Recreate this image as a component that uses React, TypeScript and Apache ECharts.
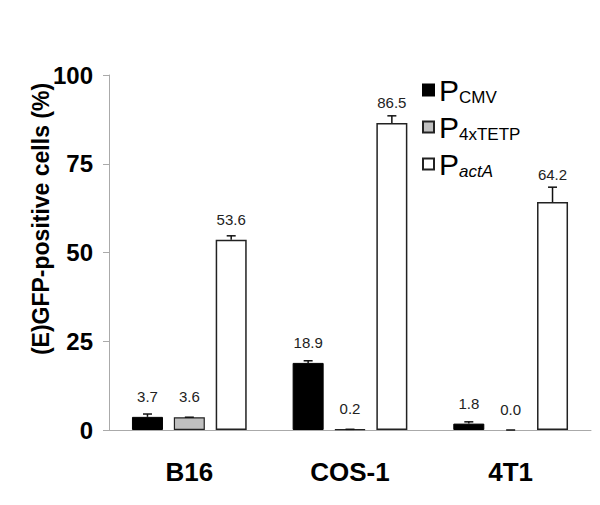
import React, { useEffect, useRef } from "react";
import * as echarts from "echarts";

const categories = ["B16", "COS-1", "4T1"];
const seriesNames = ["PCMV", "P4xTETP", "PactA"];
const legendSubs = ["CMV", "4xTETP", "actA"];
const cmvValues = [3.7, 18.9, 1.8];
const cmvErrors = [0.8, 0.6, 0.5];
const tetpValues = [3.6, 0.2, 0.0];
const tetpErrors = [0, 0, 0];
const actAValues = [53.6, 86.5, 64.2];
const actAErrors = [1.1, 2.0, 4.2];

const FONT = 'Arial, "Liberation Sans", Helvetica, sans-serif';
const BAR_FRAC = 0.193;
const GAP_FRAC = 0.35;

function errorSeries(k: number, values: number[], errors: number[]) {
  return {
    type: "custom",
    name: "err" + k,
    z: 5,
    silent: true,
    data: values.map((v, i) => [i, v, errors[i]]),
    renderItem: (params: any, api: any) => {
      const ci = api.value(0);
      const v = api.value(1);
      const e = api.value(2);
      const base = api.coord([ci, v]);
      const top = api.coord([ci, v + e]);
      const cw = api.size([1, 0])[0];
      const w = cw * BAR_FRAC;
      const x = base[0] + (k - 1) * w * (1 + GAP_FRAC);
      const cap = 4.5;
      const children: any[] = [];
      if (e > 0) {
        children.push({
          type: "line",
          shape: { x1: x, y1: base[1], x2: x, y2: top[1] },
          style: { stroke: "#111", lineWidth: 1.5 },
        });
      }
      children.push({
        type: "line",
        shape: { x1: x - cap, y1: top[1], x2: x + cap, y2: top[1] },
        style: { stroke: "#111", lineWidth: 1.5 },
      });
      const labelBottom = Math.min(base[1] - 13, top[1] - 5);
      children.push({
        type: "text",
        x: x,
        y: labelBottom,
        style: {
          text: v.toFixed(1),
          align: "center",
          verticalAlign: "bottom",
          fontSize: 15,
          fontFamily: FONT,
          fill: "#222",
        },
      });
      return { type: "group", children };
    },
  };
}

export default function App() {
  const ref = useRef<HTMLDivElement>(null);
  useEffect(() => {
    if (!ref.current) return;
    const chart = echarts.init(ref.current, null, { renderer: "svg" });
    const barBase = {
      type: "bar",
      barWidth: (BAR_FRAC * 100).toFixed(1) + "%",
      barGap: GAP_FRAC * 100 + "%",
    };
    chart.setOption({
      animation: false,
      backgroundColor: "#fff",
      grid: { left: 109, right: 9, top: 75, bottom: 75 },
      legend: {
        orient: "vertical",
        left: 422,
        top: 74,
        padding: 0,
        itemWidth: 11,
        itemHeight: 11,
        itemGap: 5,
        itemTextGap: 5,
        icon: "rect",
        selectedMode: false,
        data: seriesNames,
        formatter: (name: string) => {
          const i = seriesNames.indexOf(name);
          const sub = legendSubs[i];
          return i === 2 ? `{p|P}{si|${sub}}` : `{p|P}{s|${sub}}`;
        },
        textStyle: {
          rich: {
            p: { fontSize: 30, fontFamily: FONT, color: "#000", lineHeight: 30 },
            s: {
              fontSize: 17,
              fontFamily: FONT,
              color: "#000",
              lineHeight: 17,
              padding: [15, 0, 0, 0],
            },
            si: {
              fontSize: 17,
              fontFamily: FONT,
              fontStyle: "italic",
              color: "#000",
              lineHeight: 17,
              padding: [15, 0, 0, 0],
            },
          },
        },
      },
      graphic: [
        {
          type: "text",
          x: 41,
          y: 219,
          rotation: Math.PI / 2,
          style: {
            text: "(E)GFP-positive cells (%)",
            align: "center",
            verticalAlign: "middle",
            fontSize: 23,
            fontWeight: "bold",
            fontFamily: FONT,
            fill: "#000",
          },
        },
      ],
      xAxis: {
        type: "category",
        data: categories,
        axisLine: { lineStyle: { color: "#aaa", width: 1 } },
        axisTick: { length: 7, lineStyle: { color: "#aaa" } },
        axisLabel: {
          margin: 29,
          fontSize: 26,
          fontWeight: "bold",
          fontFamily: FONT,
          color: "#000",
        },
      },
      yAxis: {
        type: "value",
        min: 0,
        max: 100,
        interval: 25,
        splitLine: { show: false },
        axisLine: { show: true, lineStyle: { color: "#aaa", width: 1 } },
        axisTick: { show: true, length: 6, lineStyle: { color: "#aaa" } },
        axisLabel: {
          margin: 16,
          fontSize: 24,
          fontWeight: "bold",
          fontFamily: FONT,
          color: "#000",
        },
      },
      series: [
        {
          ...barBase,
          name: seriesNames[0],
          data: cmvValues,
          itemStyle: { color: "#000", borderColor: "#000", borderWidth: 1 },
        },
        {
          ...barBase,
          name: seriesNames[1],
          data: tetpValues.map((v) =>
            v === 0 ? { value: v, itemStyle: { borderWidth: 0 } } : v
          ),
          itemStyle: { color: "#c0c0c0", borderColor: "#222", borderWidth: 1.2 },
        },
        {
          ...barBase,
          name: seriesNames[2],
          data: actAValues,
          itemStyle: { color: "#fff", borderColor: "#222", borderWidth: 1.5 },
        },
        errorSeries(0, cmvValues, cmvErrors),
        errorSeries(1, tetpValues, tetpErrors),
        errorSeries(2, actAValues, actAErrors),
      ],
    });
    return () => chart.dispose();
  }, []);
  return (
    <div
      ref={ref}
      style={{ position: "fixed", left: 0, top: 0, width: 600, height: 505 }}
    />
  );
}
